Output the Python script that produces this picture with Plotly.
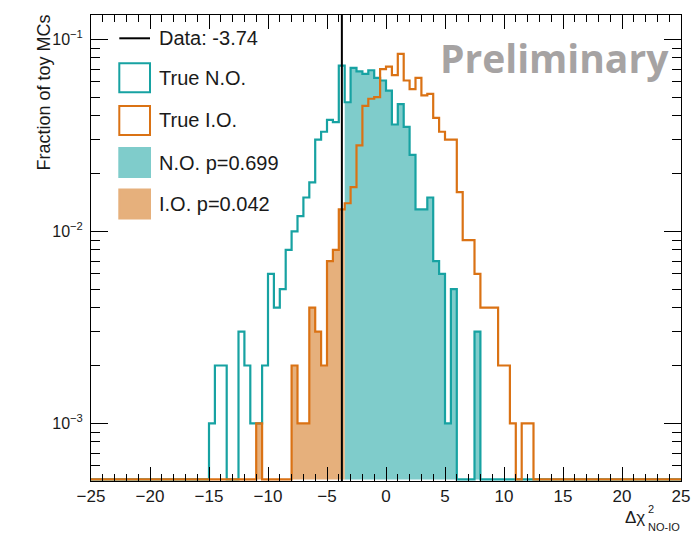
import numpy as np
import plotly.graph_objects as go

# ---------------------------------------------------------------- data
BIN_WIDTH = 0.5
X_MIN, X_MAX = -25.0, 25.0
FIRST_EDGE = -15.0          # lower edge of the first listed bin

# fraction of toy MCs per 0.5-wide bin of delta chi^2 (NO - IO), from FIRST_EDGE on
true_no = [0.001, 0.002, 0.002, 0.000, 0.000, 0.003, 0.002, 0.001, 0.001, 0.002,
           0.006, 0.004, 0.005, 0.008, 0.010, 0.012, 0.015, 0.018, 0.030, 0.033,
           0.038, 0.037, 0.073, 0.047, 0.071, 0.068, 0.066, 0.069, 0.063, 0.061,
           0.054, 0.036, 0.046, 0.035, 0.025, 0.013, 0.013, 0.015, 0.007, 0.006,
           0.001, 0.005, 0.000, 0.000, 0.000, 0.003]
true_io = [0.000, 0.000, 0.000, 0.000, 0.000, 0.000, 0.000, 0.000, 0.001, 0.000,
           0.000, 0.000, 0.000, 0.000, 0.002, 0.001, 0.001, 0.004, 0.003, 0.002,
           0.007, 0.008, 0.013, 0.014, 0.017, 0.028, 0.045, 0.049, 0.050, 0.070,
           0.072, 0.065, 0.084, 0.061, 0.055, 0.063, 0.051, 0.052, 0.039, 0.033,
           0.030, 0.030, 0.016, 0.009, 0.009, 0.006, 0.004, 0.004, 0.004, 0.002,
           0.002, 0.001, 0.000, 0.001, 0.001]

DATA_VALUE = -3.74
P_NO = 0.699
P_IO = 0.042

x_tick_step = 5
y_tick_values = [1e-3, 1e-2, 1e-1]
y_tick_labels = ["10<sup>\u22123</sup>", "10<sup>\u22122</sup>", "10<sup>\u22121</sup>"]

# ---------------------------------------------------------------- style
TEAL = "#17a2a2"
TEAL_FILL = "#7fcccb"
ORANGE = "#da7214"
ORANGE_FILL = "#e6b07c"
FONT = "Liberation Sans, Arial, sans-serif"

Y_LOG_RANGE = [-3.3005, -0.8735]
FLOOR = 10 ** (Y_LOG_RANGE[0] + 0.008)     # empty bins sit on the bottom frame

W, H = 692, 541
ML, MR, MT, MB = 91, 11, 15, 60
PW, PH = W - ML - MR, H - MT - MB


def px(x):
    return (x - ML) / PW


def py(y):
    return (H - MB - y) / PH


# ---------------------------------------------------------------- histograms
n_bins = int(round((X_MAX - X_MIN) / BIN_WIDTH))
edges = X_MIN + BIN_WIDTH * np.arange(n_bins + 1)
offset = int(round((FIRST_EDGE - X_MIN) / BIN_WIDTH))


def full_hist(values):
    h = np.zeros(n_bins)
    h[offset:offset + len(values)] = values
    return np.where(h > 0, h, FLOOR)


no_h = full_hist(true_no)
io_h = full_hist(true_io)

cut_edge = np.ceil(DATA_VALUE / BIN_WIDTH) * BIN_WIDTH
k = int(round((cut_edge - X_MIN) / BIN_WIDTH))

fig = go.Figure()

# N.O. tail above the measured value
fig.add_trace(go.Scatter(
    x=np.concatenate([[edges[k]], edges[k:n_bins], [edges[n_bins]]]),
    y=np.concatenate([[FLOOR], no_h[k:], [FLOOR]]),
    mode="lines", line_shape="hv", line=dict(width=0, color=TEAL_FILL),
    fill="toself", fillcolor=TEAL_FILL, hoverinfo="skip", showlegend=False))

# I.O. tail below the measured value
fig.add_trace(go.Scatter(
    x=np.concatenate([[edges[0]], edges[0:k], [edges[k]]]),
    y=np.concatenate([[FLOOR], io_h[:k], [FLOOR]]),
    mode="lines", line_shape="hv", line=dict(width=0, color=ORANGE_FILL),
    fill="toself", fillcolor=ORANGE_FILL, hoverinfo="skip", showlegend=False))

for h, col in ((no_h, TEAL), (io_h, ORANGE)):
    fig.add_trace(go.Scatter(
        x=edges, y=np.append(h, h[-1]), mode="lines", line_shape="hv",
        line=dict(color=col, width=2.2), hoverinfo="skip", showlegend=False))

# measured value
fig.add_shape(type="line", xref="x", yref="paper", x0=DATA_VALUE, x1=DATA_VALUE,
              y0=0, y1=1, line=dict(color="black", width=2))

# ---------------------------------------------------------------- legend
LX0, LX1, LTX = 119.3, 150.0, 156.5
BOX_H = 29
fig.add_shape(type="line", xref="paper", yref="paper", x0=px(LX0), x1=px(LX1),
              y0=py(38.3), y1=py(38.3), line=dict(color="black", width=2))
entries = [
    (77.8, TEAL, "rgba(0,0,0,0)", "True N.O."),
    (120.5, ORANGE, "rgba(0,0,0,0)", "True I.O."),
    (162.5, TEAL_FILL, TEAL_FILL, f"N.O. p={P_NO:.3f}"),
    (204.0, ORANGE_FILL, ORANGE_FILL, f"I.O. p={P_IO:.3f}"),
]
for yc, lc, fc, _ in entries:
    fig.add_shape(type="rect", xref="paper", yref="paper",
                  x0=px(LX0), x1=px(LX1), y0=py(yc + BOX_H / 2), y1=py(yc - BOX_H / 2),
                  line=dict(color=lc, width=2), fillcolor=fc)
labels = [(38.3, f"Data: {DATA_VALUE:.2f}")] + [(e[0], e[3]) for e in entries]
for yc, txt in labels:
    fig.add_annotation(xref="paper", yref="paper", x=px(LTX), y=py(yc),
                       xanchor="left", yanchor="middle", text=txt, showarrow=False,
                       font=dict(family=FONT, size=20, color="#1a1a1a"))

# ---------------------------------------------------------------- labels
fig.add_annotation(xref="paper", yref="paper", x=px(671), y=py(58),
                   xanchor="right", yanchor="middle", text="<b>Preliminary</b>",
                   showarrow=False, font=dict(family="Open Sans, sans-serif", size=39,
                                              color="#a6a3a3"))
fig.add_annotation(xref="paper", yref="paper", x=px(43.5), y=py(13),
                   xanchor="center", yanchor="top", textangle=-90,
                   text="Fraction of toy MCs", showarrow=False,
                   font=dict(family=FONT, size=18, color="#1a1a1a"))
fig.add_annotation(xref="paper", yref="paper", x=px(647), y=py(517),
                   xanchor="right", yanchor="middle", text="\u0394\u03c7",
                   showarrow=False, font=dict(family=FONT, size=17, color="#1a1a1a"))
fig.add_annotation(xref="paper", yref="paper", x=px(646), y=py(509),
                   xanchor="left", yanchor="middle", text="2",
                   showarrow=False, font=dict(family=FONT, size=11, color="#1a1a1a"))
fig.add_annotation(xref="paper", yref="paper", x=px(646), y=py(527),
                   xanchor="left", yanchor="middle", text="NO-IO",
                   showarrow=False, font=dict(family=FONT, size=11, color="#1a1a1a"))

# ---------------------------------------------------------------- axes
y_minor = [m * 10.0 ** d for d in (-4, -3, -2, -1) for m in range(2, 10)
           if Y_LOG_RANGE[0] <= np.log10(m * 10.0 ** d) <= Y_LOG_RANGE[1]]

fig.update_xaxes(range=[X_MIN, X_MAX], tick0=X_MIN, dtick=x_tick_step,
                 ticks="inside", ticklen=14, tickwidth=1, tickcolor="black",
                 minor=dict(dtick=1, ticks="inside", ticklen=7, tickwidth=1,
                            tickcolor="black"),
                 showline=True, linecolor="black", linewidth=1, mirror="allticks",
                 showgrid=False, zeroline=False, automargin=False,
                 tickfont=dict(family=FONT, size=17, color="#1a1a1a"))
fig.update_yaxes(type="log", range=Y_LOG_RANGE, tickmode="array",
                 tickvals=y_tick_values, ticktext=y_tick_labels,
                 ticks="inside", ticklen=17, tickwidth=1, tickcolor="black",
                 minor=dict(tickmode="array", tickvals=y_minor, ticks="inside",
                            ticklen=9, tickwidth=1, tickcolor="black"),
                 showline=True, linecolor="black", linewidth=1, mirror="allticks",
                 showgrid=False, zeroline=False, ticklabelstandoff=4, automargin=False,
                 tickfont=dict(family=FONT, size=16, color="#1a1a1a"))

fig.update_layout(width=W, height=H, margin=dict(l=ML, r=MR, t=MT, b=MB),
                  paper_bgcolor="white", plot_bgcolor="white", showlegend=False)

fig.write_html("out.html")
